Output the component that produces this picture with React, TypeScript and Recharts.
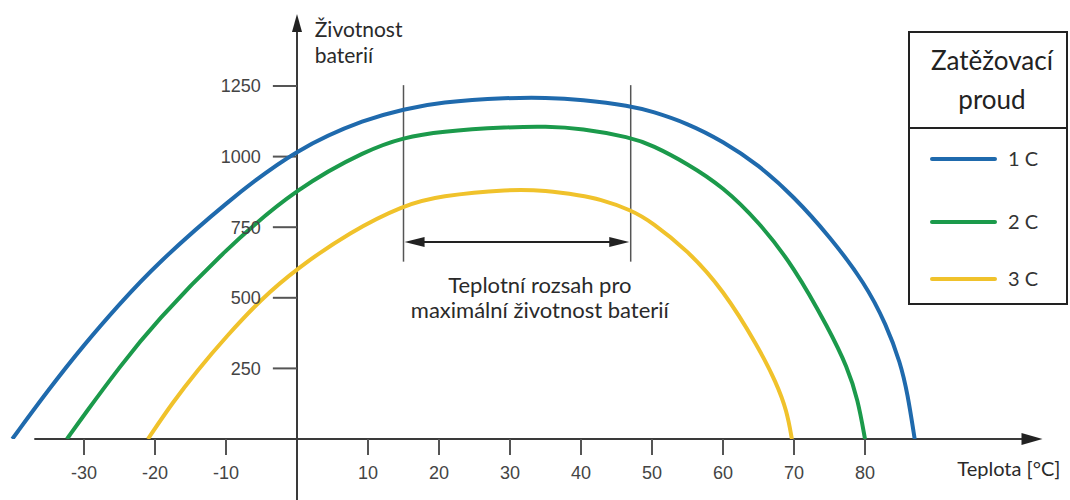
import React from "react";
import { LineChart, Line, XAxis, YAxis, ReferenceLine, ReferenceDot, Legend } from "recharts";

// temperature [°C] -> battery life (cycles)
const temps1C = [-40.1, -35, -30, -25, -20, -10, 0, 10, 15, 20, 30, 35, 40, 47, 50, 55, 60, 65, 70, 75, 80, 83, 85, 86, 87];
const life1C = [0, 175, 334, 478, 614, 838, 1030, 1136, 1167, 1193, 1209, 1209, 1202, 1180, 1160, 1118, 1054, 971, 858, 718, 552, 405, 269, 160, 0];

const temps2C = [-32.4, -30, -25, -20, -10, 0, 10, 15, 20, 30, 35, 40, 47, 50, 55, 60, 65, 70, 75, 77.5, 79, 80];
const life2C = [0, 85, 255, 412, 674, 890, 1025, 1067, 1089, 1105, 1107, 1100, 1068, 1041, 975, 893, 770, 610, 385, 255, 140, 0];

const temps3C = [-21, -17.5, -14, -10, -5, 0, 7.5, 15, 20, 30, 35, 40, 42.5, 47, 50, 55, 60, 65, 67.5, 69, 69.7];
const life3C = [0, 130, 244, 362, 497, 604, 734, 828, 861, 885, 880, 862, 850, 812, 768, 668, 530, 325, 200, 100, 0];

const seriesNames = ["1 C", "2 C", "3 C"];
const xTicks = [-30, -20, -10, 10, 20, 30, 40, 50, 60, 70, 80];
const yTicks = [250, 500, 750, 1000, 1250];

// optimal temperature range
const rangeFrom = 15;
const rangeTo = 47;

const COLORS = ["#1f6aad", "#1b9a4b", "#f0c22b"];
const NUM_FONT = "'Liberation Sans', Arial, sans-serif";
const TXT_FONT = "Lato, 'Open Sans', sans-serif";
const AXIS = "#3a3a3a";

const toPoints = (xs: number[], ys: number[]) => xs.map((t, i) => ({ t, life: ys[i] }));
const data1C = toPoints(temps1C, life1C);
const data2C = toPoints(temps2C, life2C);
const data3C = toPoints(temps3C, life3C);

function XTick(props: any) {
  const { x, y, payload } = props;
  return (
    <text x={x} y={y + 22} textAnchor="middle" fill="#444" fontSize={18} fontFamily={NUM_FONT}>
      {payload.value}
    </text>
  );
}

// text placed at a data point, several lines
const textShape = (lines: string[], anchor: "start" | "middle", size: number, lineGap: number) => (p: any) => (
  <text x={p.cx} y={p.cy} textAnchor={anchor} fontSize={size} fontFamily={TXT_FONT} fill="#2a2a2a">
    {lines.map((l, i) => (
      <tspan key={i} x={p.cx} dy={i === 0 ? 0 : lineGap}>
        {l}
      </tspan>
    ))}
  </text>
);

const arrowUp = (p: any) => <path d={`M${p.cx},${p.cy} L${p.cx - 5},${p.cy + 18} L${p.cx + 5},${p.cy + 18} Z`} fill="#222" />;
const arrowRight = (len: number, half: number) => (p: any) => (
  <path d={`M${p.cx},${p.cy} L${p.cx - len},${p.cy - half} L${p.cx - len},${p.cy + half} Z`} fill="#222" />
);
const arrowLeft = (len: number, half: number) => (p: any) => (
  <path d={`M${p.cx},${p.cy} L${p.cx + len},${p.cy - half} L${p.cx + len},${p.cy + half} Z`} fill="#222" />
);

function LegendBox(props: any) {
  const payload = props.payload || [];
  const rows = [128, 191, 248];
  return (
    <svg width={160} height={274} style={{ display: "block" }}>
      <rect x={1} y={1} width={158} height={272} fill="#fff" stroke="#222" strokeWidth={2} />
      <line x1={1} x2={159} y1={97} y2={97} stroke="#222" strokeWidth={2} />
      <text x={84} y={38.5} textAnchor="middle" fontSize={26} fontFamily={TXT_FONT} fill="#222">
        Zatěžovací
      </text>
      <text x={84} y={78} textAnchor="middle" fontSize={26} fontFamily={TXT_FONT} fill="#222">
        proud
      </text>
      {payload.map((item: any, i: number) => (
        <g key={item.value}>
          <line x1={24} x2={87} y1={rows[i]} y2={rows[i]} stroke={item.color} strokeWidth={4} strokeLinecap="round" />
          <text x={100} y={rows[i] + 7} fontSize={20} fontFamily={TXT_FONT} fill="#333">
            {item.value}
          </text>
        </g>
      ))}
    </svg>
  );
}

export default function App() {
  return (
    <div style={{ position: "absolute", left: 0, top: 0, width: 1070, height: 500, background: "#fff" }}>
      <LineChart width={1070} height={500} margin={{ top: 15.4, right: 27.5, bottom: 0, left: 5.9 }}>
        <XAxis
          type="number"
          dataKey="t"
          domain={[-41, 105]}
          ticks={xTicks}
          interval={0}
          allowDataOverflow
          axisLine={false}
          tickSize={16}
          tickLine={{ stroke: "#555", strokeWidth: 2 }}
          height={61}
          tick={(p: any) => <XTick {...p} />}
        />
        <YAxis type="number" domain={[0, 1500]} allowDataOverflow hide />

        {/* axes crossing at the origin */}
        <ReferenceLine segment={[{ x: -37, y: 0 }, { x: 103, y: 0 }]} stroke={AXIS} strokeWidth={2} ifOverflow="visible" />
        <ReferenceLine segment={[{ x: 0, y: -220 }, { x: 0, y: 1490 }]} stroke={AXIS} strokeWidth={2} ifOverflow="visible" />
        <ReferenceDot x={0} y={1505} r={1} ifOverflow="visible" shape={arrowUp} />
        <ReferenceDot x={105} y={0} r={1} ifOverflow="visible" shape={arrowRight(21, 6)} />

        {yTicks.map((v) => (
          <ReferenceLine
            key={v}
            segment={[{ x: -3.4, y: v }, { x: 0, y: v }]}
            stroke="#555"
            strokeWidth={2}
            ifOverflow="visible"
            label={{ value: String(v), position: "left", offset: 12, fill: "#444", fontSize: 18, fontFamily: NUM_FONT }}
          />
        ))}

        {/* optimum range markers */}
        <ReferenceLine segment={[{ x: rangeFrom, y: 628 }, { x: rangeFrom, y: 1253 }]} stroke="#555" strokeWidth={1.5} ifOverflow="visible" />
        <ReferenceLine segment={[{ x: rangeTo, y: 628 }, { x: rangeTo, y: 1253 }]} stroke="#555" strokeWidth={1.5} ifOverflow="visible" />
        <ReferenceLine segment={[{ x: rangeFrom + 1, y: 698 }, { x: rangeTo - 1, y: 698 }]} stroke="#222" strokeWidth={2} ifOverflow="visible" />
        <ReferenceDot x={rangeFrom + 0.15} y={698} r={1} ifOverflow="visible" shape={arrowLeft(20, 5)} />
        <ReferenceDot x={rangeTo - 0.2} y={698} r={1} ifOverflow="visible" shape={arrowRight(20, 5)} />

        <Line data={data1C} dataKey="life" name={seriesNames[0]} type="basis" stroke={COLORS[0]} strokeWidth={4} dot={false} isAnimationActive={false} />
        <Line data={data2C} dataKey="life" name={seriesNames[1]} type="basis" stroke={COLORS[1]} strokeWidth={4} dot={false} isAnimationActive={false} />
        <Line data={data3C} dataKey="life" name={seriesNames[2]} type="basis" stroke={COLORS[2]} strokeWidth={4} dot={false} isAnimationActive={false} />

        {/* texts */}
        <ReferenceDot x={2.5} y={1425} r={1} ifOverflow="visible" shape={textShape(["Životnost", "baterií"], "start", 21, 26.6)} />
        <ReferenceDot x={34.2} y={516} r={1} ifOverflow="visible" shape={textShape(["Teplotní rozsah pro", "maximální životnost baterií"], "middle", 22, 25)} />
        <ReferenceDot x={93} y={-131} r={1} ifOverflow="visible" shape={textShape(["Teplota [°C]"], "start", 20, 0)} />

        <Legend
          layout="horizontal"
          verticalAlign="middle"
          align="center"
          content={(p: any) => <LegendBox {...p} />}
          wrapperStyle={{ left: 908, top: 31, width: 160, height: 274 }}
        />
      </LineChart>
    </div>
  );
}
